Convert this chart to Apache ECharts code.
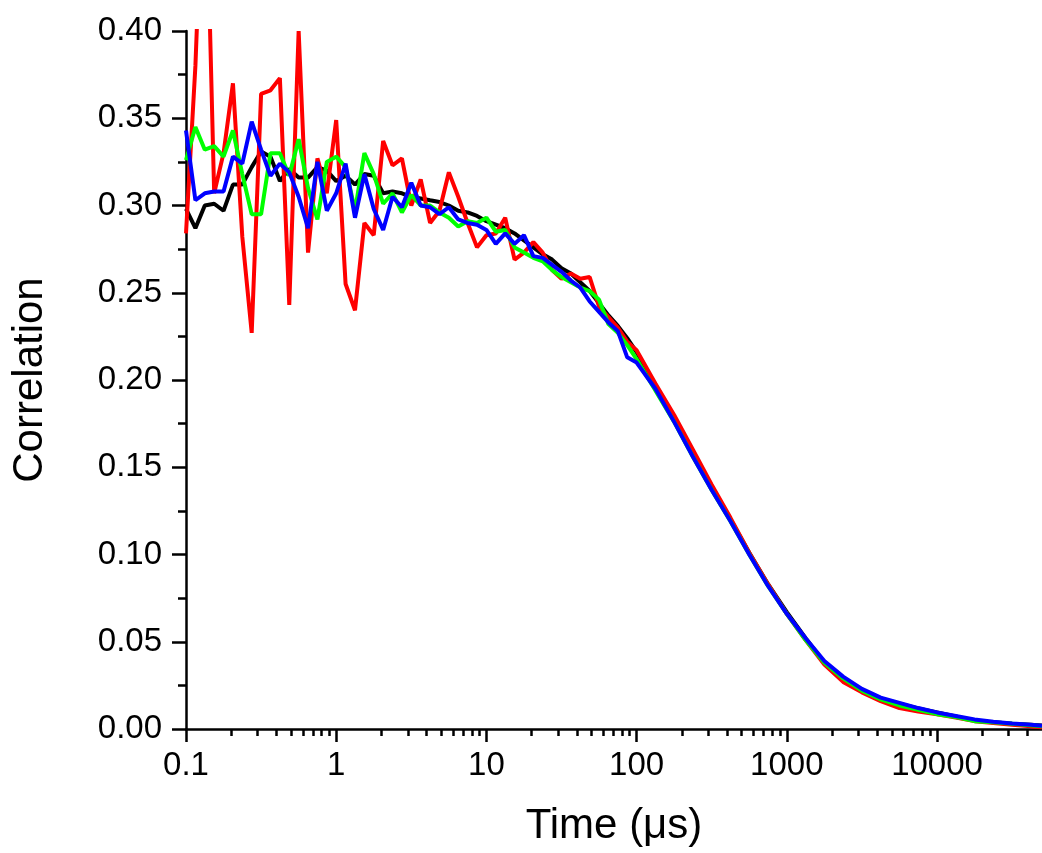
<!DOCTYPE html>
<html lang="en">
<head>
<meta charset="UTF-8">
<title>Correlation curves</title>
<style>
html, body { margin: 0; padding: 0; background: #fff; }
#chart { width: 1042px; height: 853px; }
</style>
</head>
<body>
<div id="chart"></div>
<script src="https://cdn.jsdelivr.net/npm/echarts@6/dist/echarts.min.js"></script>
<script>
// lag times in microseconds
var times = [
  0.1, 0.1155, 0.1334, 0.154, 0.1778, 0.2054, 0.2371, 0.2738, 0.3162, 0.3652, 0.4217, 0.487, 0.5623, 0.6494, 0.7499, 0.866,
  1, 1.155, 1.334, 1.54, 1.778, 2.054, 2.371, 2.738, 3.162, 3.652, 4.217, 4.87, 5.623, 6.494, 7.499, 8.66,
  10, 11.55, 13.34, 15.4, 17.78, 20.54, 23.71, 27.38, 31.62, 36.52, 42.17, 48.7, 56.23, 64.94, 74.99, 86.6,
  100, 133.4, 177.8, 237.1, 316.2, 421.7, 562.3, 749.9,
  1000, 1334, 1778, 2371, 3162, 4217, 5623, 7499,
  10000, 13340, 17780, 23710, 31620, 42170, 50000
];

var blackVals = [
  0.298, 0.287, 0.300, 0.301, 0.297, 0.312, 0.312, 0.322, 0.331, 0.328, 0.314, 0.321, 0.316, 0.316, 0.322, 0.320,
  0.314, 0.317, 0.312, 0.318, 0.317, 0.307, 0.308, 0.307, 0.305, 0.304, 0.303, 0.302, 0.300, 0.297, 0.296, 0.294,
  0.291, 0.289, 0.287, 0.284, 0.280, 0.276, 0.272, 0.269, 0.264, 0.261, 0.256, 0.251, 0.244, 0.237, 0.231, 0.224,
  0.216, 0.196, 0.177, 0.158, 0.139, 0.120, 0.101, 0.083,
  0.067, 0.052, 0.038, 0.029, 0.0225, 0.0175, 0.0145, 0.0118,
  0.0095, 0.0072, 0.0048, 0.0038, 0.003, 0.0024, 0.002
];

var redVals = [
  0.284, 0.38, 0.52, 0.307, 0.33, 0.370, 0.282, 0.227, 0.364, 0.366, 0.373, 0.243, 0.400, 0.273, 0.327, 0.307,
  0.349, 0.255, 0.240, 0.290, 0.283, 0.337, 0.323, 0.327, 0.300, 0.315, 0.290, 0.297, 0.319, 0.305, 0.290, 0.276,
  0.283, 0.284, 0.293, 0.269, 0.273, 0.279, 0.273, 0.263, 0.258, 0.261, 0.258, 0.259, 0.242, 0.236, 0.230, 0.222,
  0.217, 0.198, 0.180, 0.160, 0.140, 0.121, 0.101, 0.083,
  0.066, 0.051, 0.037, 0.027, 0.021, 0.016, 0.012, 0.010,
  0.0085, 0.0065, 0.0045, 0.0035, 0.0025, 0.0015, 0.001
];

var greenVals = [
  0.326, 0.345, 0.332, 0.334, 0.328, 0.343, 0.318, 0.295, 0.295, 0.330, 0.330, 0.317, 0.338, 0.310, 0.292, 0.325,
  0.328, 0.322, 0.297, 0.330, 0.318, 0.301, 0.307, 0.296, 0.306, 0.300, 0.300, 0.296, 0.293, 0.288, 0.291, 0.290,
  0.293, 0.285, 0.286, 0.276, 0.273, 0.270, 0.268, 0.263, 0.259, 0.256, 0.253, 0.251, 0.246, 0.232, 0.227, 0.220,
  0.212, 0.194, 0.176, 0.156, 0.137, 0.119, 0.100, 0.082,
  0.066, 0.051, 0.038, 0.029, 0.022, 0.017, 0.0135, 0.011,
  0.0085, 0.0068, 0.0045, 0.0038, 0.003, 0.0022, 0.0015
];

var blueVals = [
  0.343, 0.303, 0.307, 0.308, 0.308, 0.328, 0.324, 0.348, 0.332, 0.317, 0.324, 0.319, 0.305, 0.287, 0.325, 0.297,
  0.307, 0.324, 0.293, 0.318, 0.298, 0.286, 0.305, 0.299, 0.313, 0.300, 0.299, 0.295, 0.299, 0.292, 0.290, 0.289,
  0.286, 0.278, 0.284, 0.278, 0.283, 0.271, 0.270, 0.266, 0.262, 0.257, 0.253, 0.245, 0.239, 0.233, 0.228, 0.213,
  0.210, 0.195, 0.176, 0.156, 0.137, 0.119, 0.100, 0.082,
  0.066, 0.052, 0.039, 0.030, 0.023, 0.018, 0.015, 0.012,
  0.0095, 0.0075, 0.0055, 0.0042, 0.0032, 0.0025, 0.0018
];

var majorTicks = [0.1, 1, 10, 100, 1000, 10000];
var minorTicks = [
  0.2, 0.3, 0.4, 0.5, 0.6, 0.7, 0.8, 0.9,
  2, 3, 4, 5, 6, 7, 8, 9,
  20, 30, 40, 50, 60, 70, 80, 90,
  200, 300, 400, 500, 600, 700, 800, 900,
  2000, 3000, 4000, 5000, 6000, 7000, 8000, 9000,
  20000, 30000, 40000
];

function pairs(vals) {
  return times.map(function (t, i) { return [t, vals[i]]; });
}

var font = '"Liberation Sans", Arial, sans-serif';
var chart = echarts.init(document.getElementById('chart'));

function line(name, color, vals) {
  return {
    name: name,
    type: 'line',
    xAxisIndex: 0,
    data: pairs(vals),
    showSymbol: false,
    symbol: 'none',
    clip: true,
    lineStyle: { color: color, width: 4 },
    itemStyle: { color: color }
  };
}

chart.setOption({
  animation: false,
  backgroundColor: '#ffffff',
  grid: { left: 186, top: 31, width: 858, height: 698 },
  xAxis: [
    {
      type: 'log',
      min: 0.1,
      max: 50000,
      name: 'Time (\u03bcs)',
      nameLocation: 'middle',
      nameGap: 76,
      nameTextStyle: { fontFamily: font, fontSize: 42, color: '#000' },
      axisLine: { show: true, onZero: false, lineStyle: { color: '#000', width: 2.5 } },
      axisTick: { show: true, inside: false, length: 13, customValues: majorTicks, lineStyle: { color: '#000', width: 2.5 } },
      axisLabel: {
        customValues: majorTicks,
        margin: 20,
        fontFamily: font,
        fontSize: 33,
        color: '#000',
        formatter: function (v) { return String(+Number(v).toPrecision(6)); }
      },
      splitLine: { show: false }
    },
    {
      type: 'log',
      min: 0.1,
      max: 50000,
      position: 'bottom',
      axisLine: { show: false },
      axisTick: { show: true, inside: false, length: 7, customValues: minorTicks, lineStyle: { color: '#000', width: 2.5 } },
      axisLabel: { show: false },
      splitLine: { show: false }
    }
  ],
  yAxis: {
    type: 'value',
    min: 0,
    max: 0.4,
    interval: 0.05,
    name: 'Correlation',
    nameLocation: 'middle',
    nameRotate: 90,
    nameGap: 135,
    nameTextStyle: { fontFamily: font, fontSize: 42, color: '#000' },
    axisLine: { show: true, lineStyle: { color: '#000', width: 2.5 } },
    axisTick: { show: true, inside: false, length: 14, lineStyle: { color: '#000', width: 2.5 } },
    minorTick: { show: true, splitNumber: 2, length: 8, lineStyle: { color: '#000', width: 2.5 } },
    axisLabel: {
      margin: 24,
      fontFamily: font,
      fontSize: 33,
      color: '#000',
      formatter: function (v) { return v.toFixed(2); }
    },
    splitLine: { show: false }
  },
  series: [
    line('black', '#000000', blackVals),
    line('red', '#ff0000', redVals),
    line('green', '#00ff00', greenVals),
    line('blue', '#0000ff', blueVals)
  ]
});
</script>
</body>
</html>
